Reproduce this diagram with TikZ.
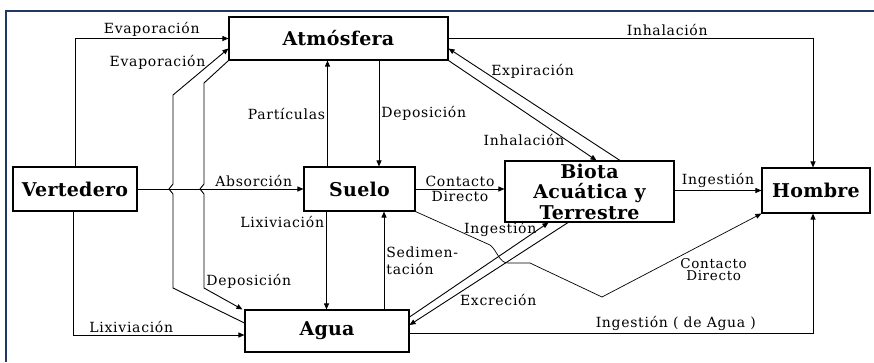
\documentclass[tikz,border=0pt]{standalone}
\usepackage{fontspec}
\setmainfont{DejaVu Serif}[LetterSpace=5,BoldFeatures={LetterSpace=1.5}]
\usepackage{tikz}
\usetikzlibrary{arrows.meta,calc}
\definecolor{marco}{RGB}{31,56,100}

\begin{document}
\begin{tikzpicture}[x=1pt,y=-1pt,>={Triangle[length=6pt,width=5pt]},
  caja/.style={draw,rectangle,line width=1.1pt,inner sep=0pt,align=center,font=\fontsize{19}{20.5}\selectfont\bfseries},
  flujo/.style={->,line width=0.9pt},
  etq/.style={font=\fontsize{14}{17}\selectfont,inner sep=2pt}]
\useasboundingbox (0,0) rectangle (874,362);
\draw[marco,line width=2.2pt] (6,362) -- (6,11) -- (874,11);
\node[caja,minimum width=219pt,minimum height=43pt](n_atm) at (338.5,38.5){Atmósfera};
\node[caja,minimum width=124pt,minimum height=44pt](n_ver) at (75,189){Vertedero};
\node[caja,minimum width=111pt,minimum height=44pt](n_sue) at (359.5,189){Suelo};
\node[caja,minimum width=169pt,minimum height=61pt](n_bio) at (589.5,191.5){Biota\\Acuática y\\Terrestre};
\node[caja,minimum width=108pt,minimum height=45pt](n_hom) at (816,190.5){Hombre};
\node[caja,minimum width=164pt,minimum height=42pt](n_agu) at (327,331){Agua};
\node[coordinate](p_e1) at (173,288){};
\node[coordinate](p_e2) at (173,95){};
\node[coordinate](p_d1) at (204,83){};
\node[coordinate](p_d2) at (204,288){};
\node[coordinate](p_c1) at (490,245){};
\node[coordinate](p_c2) at (508,263){};
\node[coordinate](p_c3) at (530,263){};
\node[coordinate](p_c4) at (602,297){};
\draw[flujo] (n_ver.north) |- (n_atm.west) node[etq,pos=0.75,above](l_ev1){Evaporación};
\draw[flujo] ([yshift=8pt]n_agu.west) -- (p_e1) -- ($(p_e1 |- n_ver.east)+(0,5)$) -- ++(-4,-5) -- ++(4,-5) -- (p_e2)
  -- ([yshift=-10pt]n_atm.west) node[etq,pos=0.7,left,xshift=-4pt](l_ev2){Evaporación};
\draw[flujo] (n_atm.south west) -- (p_d1) -- ($(p_d1 |- n_ver.east)+(0,-5)$) -- ++(-4,5) -- ++(4,5)
  -- (p_d2) node[etq,pos=0.93,right](l_dep1){Deposición} -- ([xshift=-2pt]n_agu.north west);
\draw[flujo] (n_ver.east) -- (n_sue.west) node[etq,pos=0.7,above](l_abs){Absorción};
\draw[flujo] ([xshift=-32pt]n_sue.north) -- ([xshift=-32pt]n_sue.north |- n_atm.south) node[etq,midway,left](l_par){Partículas};
\draw[flujo] ([xshift=19.5pt]n_sue.north |- n_atm.south) -- ([xshift=19.5pt]n_sue.north) node[etq,midway,right](l_dep2){Deposición};
\draw[flujo] ([xshift=-33pt]n_sue.south) -- ([xshift=-33pt]n_sue.south |- n_agu.north) node[etq,pos=0.11,left](l_lix1){Lixiviación};
\draw[flujo] ([xshift=24.5pt]n_sue.south |- n_agu.north) -- ([xshift=24.5pt]n_sue.south) node[etq,midway,right,align=left](l_sed){Sedimen-\\tación};
\draw[flujo] (n_sue.east) -- (n_sue.east -| n_bio.west) node[etq,midway,above](l_con){Contacto} node[etq,midway,below](l_dir){Directo};
\draw[flujo] (n_hom.west -| n_bio.east) -- (n_hom.west) node[etq,midway,above](l_ing1){Ingestión};
\draw[flujo] ([xshift=30.5pt]n_bio.north) -- ([yshift=-10pt]n_atm.east) node[etq,pos=0.8,right,xshift=6pt](l_exp){Expiración};
\draw[flujo] (n_atm.south east) -- ([xshift=7pt]n_bio.north) node[etq,pos=0.8,left](l_inh1){Inhalación};
\draw[flujo] (n_atm.east) -| ([xshift=-3pt]n_hom.north) node[etq,pos=0.3,above](l_inh2){Inhalación};
\draw[flujo] ([yshift=14pt]n_agu.east) -- ([xshift=-41pt]n_bio.south) node[etq,pos=0.93,left](l_ing2){Ingestión};
\draw[flujo] ([xshift=-21.5pt]n_bio.south) -- ([yshift=6pt]n_agu.east) node[etq,pos=0.76,right,xshift=10pt](l_exc){Excreción};
\draw[flujo,line width=0.7pt] (n_sue.south east) -- (p_c1) .. controls +(7,5) and +(-9,0) .. (p_c2) -- (p_c3) -- (p_c4)
  -- (n_hom.south west) node[etq,pos=0.7,below=18pt,align=center,font=\fontsize{13.5}{12}\selectfont](l_cd){Contacto\\Directo};
\draw[flujo] ([yshift=-2pt]n_agu.east) -| ([xshift=-3pt]n_hom.south) node[etq,pos=0.33,above](l_ing3){Ingestión ( de Agua )};
\draw[flujo] ([xshift=-2pt]n_ver.south) |- ([yshift=-4pt]n_agu.west) node[etq,pos=0.67,above](l_lix2){Lixiviación};
\end{tikzpicture}
\end{document}
